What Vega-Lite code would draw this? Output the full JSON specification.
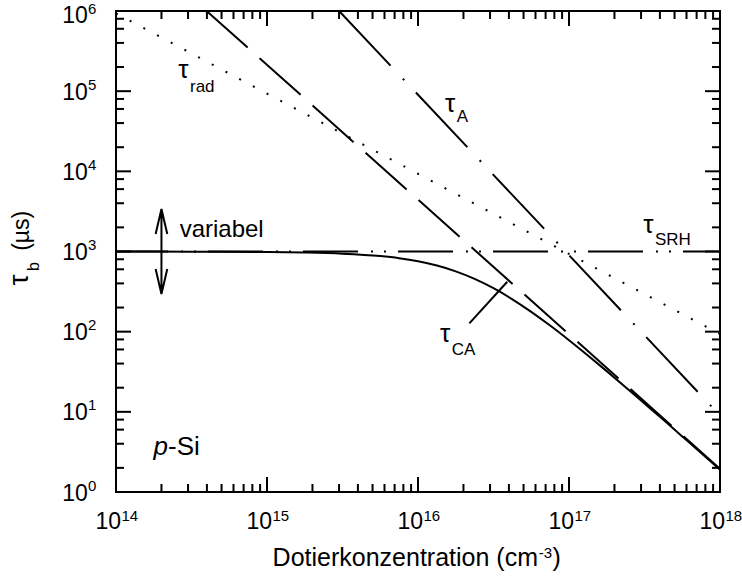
{
"$schema":"https://vega.github.io/schema/vega-lite/v6.json",
"width":604,"height":481,
"autosize":{"type":"none"},
"padding":{"left":116,"top":11,"right":22,"bottom":90},
"background":"white",
"config":{
 "view":{"stroke":"black","strokeWidth":2},
 "axis":{"grid":false,"domain":false,"ticks":false,"labelColor":"black","labelFont":"Liberation Sans","labelFlush":false,"labelOverlap":false,"labelBound":false},
 "text":{"font":"Liberation Sans","color":"black"}
},
"datasets":{
 "curves":[
  {"curve":"SRH","N":1e14,"tau":1000},{"curve":"SRH","N":1e18,"tau":1000},
  {"curve":"rad","N":1e14,"tau":933000},{"curve":"rad","N":1e18,"tau":93.3},
  {"curve":"A","N":3.003e15,"tau":1000000},{"curve":"A","N":1e18,"tau":9.0},
  {"curve":"CA","N":3.981e14,"tau":1000000},{"curve":"CA","N":1e18,"tau":1.94},
  {"curve":"total","N":1e14,"tau":998.9},{"curve":"total","N":3.162e14,"tau":996.2},
  {"curve":"total","N":1e15,"tau":985.5},{"curve":"total","N":1.778e15,"tau":970.8},
  {"curve":"total","N":3.162e15,"tau":939.8},{"curve":"total","N":5.623e15,"tau":875.9},
  {"curve":"total","N":7.499e15,"tau":823.9},{"curve":"total","N":1e16,"tau":754.8},
  {"curve":"total","N":1.334e16,"tau":667.5},{"curve":"total","N":1.778e16,"tau":565.2},
  {"curve":"total","N":2.371e16,"tau":455.3},{"curve":"total","N":3.162e16,"tau":348.2},
  {"curve":"total","N":4.217e16,"tau":253.5},{"curve":"total","N":5.623e16,"tau":176.8},
  {"curve":"total","N":7.499e16,"tau":119.2},{"curve":"total","N":1e17,"tau":78.3},
  {"curve":"total","N":1.334e17,"tau":50.5},{"curve":"total","N":1.778e17,"tau":32.2},
  {"curve":"total","N":2.371e17,"tau":20.3},{"curve":"total","N":3.162e17,"tau":12.7},
  {"curve":"total","N":4.217e17,"tau":7.94},{"curve":"total","N":5.623e17,"tau":4.94},
  {"curve":"total","N":7.499e17,"tau":3.07},{"curve":"total","N":1e18,"tau":1.9}
 ],
 "edgeTicks":[
  {"s":"b","m":1,"N":1e14,"tau":1},{"s":"b","N":2e14,"tau":1},{"s":"b","N":3e14,"tau":1},{"s":"b","N":4e14,"tau":1},{"s":"b","N":5e14,"tau":1},{"s":"b","N":6e14,"tau":1},{"s":"b","N":7e14,"tau":1},{"s":"b","N":8e14,"tau":1},{"s":"b","N":9e14,"tau":1},
  {"s":"b","m":1,"N":1e15,"tau":1},{"s":"b","N":2e15,"tau":1},{"s":"b","N":3e15,"tau":1},{"s":"b","N":4e15,"tau":1},{"s":"b","N":5e15,"tau":1},{"s":"b","N":6e15,"tau":1},{"s":"b","N":7e15,"tau":1},{"s":"b","N":8e15,"tau":1},{"s":"b","N":9e15,"tau":1},
  {"s":"b","m":1,"N":1e16,"tau":1},{"s":"b","N":2e16,"tau":1},{"s":"b","N":3e16,"tau":1},{"s":"b","N":4e16,"tau":1},{"s":"b","N":5e16,"tau":1},{"s":"b","N":6e16,"tau":1},{"s":"b","N":7e16,"tau":1},{"s":"b","N":8e16,"tau":1},{"s":"b","N":9e16,"tau":1},
  {"s":"b","m":1,"N":1e17,"tau":1},{"s":"b","N":2e17,"tau":1},{"s":"b","N":3e17,"tau":1},{"s":"b","N":4e17,"tau":1},{"s":"b","N":5e17,"tau":1},{"s":"b","N":6e17,"tau":1},{"s":"b","N":7e17,"tau":1},{"s":"b","N":8e17,"tau":1},{"s":"b","N":9e17,"tau":1},
  {"s":"b","m":1,"N":1e18,"tau":1},
  {"s":"t","m":1,"N":1e14,"tau":1000000},{"s":"t","N":2e14,"tau":1000000},{"s":"t","N":3e14,"tau":1000000},{"s":"t","N":4e14,"tau":1000000},{"s":"t","N":5e14,"tau":1000000},{"s":"t","N":6e14,"tau":1000000},{"s":"t","N":7e14,"tau":1000000},{"s":"t","N":8e14,"tau":1000000},{"s":"t","N":9e14,"tau":1000000},
  {"s":"t","m":1,"N":1e15,"tau":1000000},{"s":"t","N":2e15,"tau":1000000},{"s":"t","N":3e15,"tau":1000000},{"s":"t","N":4e15,"tau":1000000},{"s":"t","N":5e15,"tau":1000000},{"s":"t","N":6e15,"tau":1000000},{"s":"t","N":7e15,"tau":1000000},{"s":"t","N":8e15,"tau":1000000},{"s":"t","N":9e15,"tau":1000000},
  {"s":"t","m":1,"N":1e16,"tau":1000000},{"s":"t","N":2e16,"tau":1000000},{"s":"t","N":3e16,"tau":1000000},{"s":"t","N":4e16,"tau":1000000},{"s":"t","N":5e16,"tau":1000000},{"s":"t","N":6e16,"tau":1000000},{"s":"t","N":7e16,"tau":1000000},{"s":"t","N":8e16,"tau":1000000},{"s":"t","N":9e16,"tau":1000000},
  {"s":"t","m":1,"N":1e17,"tau":1000000},{"s":"t","N":2e17,"tau":1000000},{"s":"t","N":3e17,"tau":1000000},{"s":"t","N":4e17,"tau":1000000},{"s":"t","N":5e17,"tau":1000000},{"s":"t","N":6e17,"tau":1000000},{"s":"t","N":7e17,"tau":1000000},{"s":"t","N":8e17,"tau":1000000},{"s":"t","N":9e17,"tau":1000000},
  {"s":"t","m":1,"N":1e18,"tau":1000000},
  {"s":"l","m":1,"N":1e14,"tau":1},{"s":"l","N":1e14,"tau":2},{"s":"l","N":1e14,"tau":4},{"s":"l","N":1e14,"tau":6},{"s":"l","N":1e14,"tau":8},
  {"s":"l","m":1,"N":1e14,"tau":10},{"s":"l","N":1e14,"tau":20},{"s":"l","N":1e14,"tau":40},{"s":"l","N":1e14,"tau":60},{"s":"l","N":1e14,"tau":80},
  {"s":"l","m":1,"N":1e14,"tau":100},{"s":"l","N":1e14,"tau":200},{"s":"l","N":1e14,"tau":400},{"s":"l","N":1e14,"tau":600},{"s":"l","N":1e14,"tau":800},
  {"s":"l","m":1,"N":1e14,"tau":1000},{"s":"l","N":1e14,"tau":2000},{"s":"l","N":1e14,"tau":4000},{"s":"l","N":1e14,"tau":6000},{"s":"l","N":1e14,"tau":8000},
  {"s":"l","m":1,"N":1e14,"tau":10000},{"s":"l","N":1e14,"tau":20000},{"s":"l","N":1e14,"tau":40000},{"s":"l","N":1e14,"tau":60000},{"s":"l","N":1e14,"tau":80000},
  {"s":"l","m":1,"N":1e14,"tau":100000},{"s":"l","N":1e14,"tau":200000},{"s":"l","N":1e14,"tau":400000},{"s":"l","N":1e14,"tau":600000},{"s":"l","N":1e14,"tau":800000},
  {"s":"l","m":1,"N":1e14,"tau":1000000},
  {"s":"r","m":1,"N":1e18,"tau":1},{"s":"r","N":1e18,"tau":2},{"s":"r","N":1e18,"tau":4},{"s":"r","N":1e18,"tau":6},{"s":"r","N":1e18,"tau":8},
  {"s":"r","m":1,"N":1e18,"tau":10},{"s":"r","N":1e18,"tau":20},{"s":"r","N":1e18,"tau":40},{"s":"r","N":1e18,"tau":60},{"s":"r","N":1e18,"tau":80},
  {"s":"r","m":1,"N":1e18,"tau":100},{"s":"r","N":1e18,"tau":200},{"s":"r","N":1e18,"tau":400},{"s":"r","N":1e18,"tau":600},{"s":"r","N":1e18,"tau":800},
  {"s":"r","m":1,"N":1e18,"tau":1000},{"s":"r","N":1e18,"tau":2000},{"s":"r","N":1e18,"tau":4000},{"s":"r","N":1e18,"tau":6000},{"s":"r","N":1e18,"tau":8000},
  {"s":"r","m":1,"N":1e18,"tau":10000},{"s":"r","N":1e18,"tau":20000},{"s":"r","N":1e18,"tau":40000},{"s":"r","N":1e18,"tau":60000},{"s":"r","N":1e18,"tau":80000},
  {"s":"r","m":1,"N":1e18,"tau":100000},{"s":"r","N":1e18,"tau":200000},{"s":"r","N":1e18,"tau":400000},{"s":"r","N":1e18,"tau":600000},{"s":"r","N":1e18,"tau":800000},
  {"s":"r","m":1,"N":1e18,"tau":1000000}
 ],
 "labels":[
  {"role":"sym","text":"τ","N":3.021e14,"tau":147000},
  {"role":"sub","text":"rad","N":3.09e14,"tau":98500},
  {"role":"sym","text":"τ","N":1.764e16,"tau":55000},
  {"role":"sub","text":"A","N":1.803e16,"tau":41600},
  {"role":"sym","text":"τ","N":3.627e17,"tau":1701},
  {"role":"sub","text":"SRH","N":3.711e17,"tau":1205},
  {"role":"sym","text":"τ","N":1.634e16,"tau":74},
  {"role":"sub","text":"CA","N":1.671e16,"tau":51.2},
  {"role":"note","text":"variabel","N":5.01e14,"tau":1503},
  {"role":"italic","text":"p","N":1.771e14,"tau":2.894},
  {"role":"plain","text":"-Si","N":2.21e14,"tau":2.894}
 ]
},
"resolve":{"scale":{"x":"shared","y":"shared"},"axis":{"x":"independent","y":"independent"}},
"encoding":{
 "x":{"field":"N","type":"quantitative","scale":{"type":"log","domain":[1e14,1e18],"nice":false},"axis":null},
 "y":{"field":"tau","type":"quantitative","scale":{"type":"log","domain":[1,1000000],"nice":false},"axis":null}
},
"layer":[
 {"data":{"name":"curves"},"transform":[{"filter":"datum.curve === 'total'"}],
  "mark":{"type":"line","stroke":"black","strokeWidth":2,"interpolate":"monotone","clip":true},
  "encoding":{
   "x":{"field":"N","type":"quantitative","scale":{"type":"log","domain":[1e14,1e18],"nice":false},
    "axis":{"orient":"bottom","title":null,"values":[1e14,1e15,1e16,1e17,1e18],"labelExpr":"'10'","labelFontSize":23,"labelAlign":"right","labelBaseline":"top","labelPadding":18,"labelOffset":4.5}},
   "y":{"field":"tau","type":"quantitative","scale":{"type":"log","domain":[1,1000000],"nice":false},
    "axis":{"orient":"left","title":null,"values":[1,10,100,1000,10000,100000],"labelExpr":"'10'","labelFontSize":23,"labelAlign":"right","labelBaseline":"middle","labelPadding":28.7,"labelOffset":1}}
  }},
 {"data":{"name":"curves"},"transform":[{"filter":"datum.curve === 'SRH'"}],
  "mark":{"type":"line","stroke":"black","strokeWidth":2,"strokeDash":[55,13,2,11,2,12],"strokeDashOffset":3,"clip":true},
  "encoding":{
   "x":{"field":"N","type":"quantitative","scale":{"type":"log","domain":[1e14,1e18],"nice":false},
    "axis":{"orient":"bottom","title":null,"values":[1e14,1e15,1e16,1e17,1e18],"labelExpr":"format(round(log(datum.value) / LN10), 'd')","labelFontSize":15,"labelAlign":"left","labelBaseline":"top","labelPadding":16,"labelOffset":5}},
   "y":{"field":"tau","type":"quantitative","scale":{"type":"log","domain":[1,1000000],"nice":false},
    "axis":{"orient":"left","title":null,"values":[1,10,100,1000,10000,100000],"labelExpr":"format(round(log(datum.value) / LN10), 'd')","labelFontSize":15,"labelAlign":"left","labelBaseline":"middle","labelPadding":28.5,"labelOffset":-7}}
  }},
 {"data":{"name":"curves"},"transform":[{"filter":"datum.curve === 'rad'"}],
  "mark":{"type":"line","stroke":"black","strokeWidth":2,"strokeDash":[2,13.5],"strokeCap":"butt","clip":true}},
 {"data":{"name":"curves"},"transform":[{"filter":"datum.curve === 'A'"}],
  "mark":{"type":"line","stroke":"black","strokeWidth":2,"strokeDash":[75,18,2,17],"clip":true}},
 {"data":{"name":"curves"},"transform":[{"filter":"datum.curve === 'CA'"}],
  "mark":{"type":"line","stroke":"black","strokeWidth":2,"strokeDash":[55,16],"clip":true}},
 {"data":{"name":"edgeTicks"},"transform":[{"filter":"datum.s === 'b' && datum.m === 1"}],
  "mark":{"type":"point","shape":"M0,0L0,-1","size":900,"filled":false,"stroke":"black","strokeWidth":2,"opacity":1}},
 {"data":{"name":"edgeTicks"},"transform":[{"filter":"datum.s === 'b' && datum.m !== 1"}],
  "mark":{"type":"point","shape":"M0,0L0,-1","size":256,"filled":false,"stroke":"black","strokeWidth":2,"opacity":1}},
 {"data":{"name":"edgeTicks"},"transform":[{"filter":"datum.s === 't' && datum.m === 1"}],
  "mark":{"type":"point","shape":"M0,0L0,1","size":900,"filled":false,"stroke":"black","strokeWidth":2,"opacity":1}},
 {"data":{"name":"edgeTicks"},"transform":[{"filter":"datum.s === 't' && datum.m !== 1"}],
  "mark":{"type":"point","shape":"M0,0L0,1","size":256,"filled":false,"stroke":"black","strokeWidth":2,"opacity":1}},
 {"data":{"name":"edgeTicks"},"transform":[{"filter":"datum.s === 'l' && datum.m === 1"}],
  "mark":{"type":"point","shape":"M0,0L1,0","size":900,"filled":false,"stroke":"black","strokeWidth":2,"opacity":1}},
 {"data":{"name":"edgeTicks"},"transform":[{"filter":"datum.s === 'l' && datum.m !== 1"}],
  "mark":{"type":"point","shape":"M0,0L1,0","size":256,"filled":false,"stroke":"black","strokeWidth":2,"opacity":1}},
 {"data":{"name":"edgeTicks"},"transform":[{"filter":"datum.s === 'r' && datum.m === 1"}],
  "mark":{"type":"point","shape":"M0,0L-1,0","size":900,"filled":false,"stroke":"black","strokeWidth":2,"opacity":1}},
 {"data":{"name":"edgeTicks"},"transform":[{"filter":"datum.s === 'r' && datum.m !== 1"}],
  "mark":{"type":"point","shape":"M0,0L-1,0","size":256,"filled":false,"stroke":"black","strokeWidth":2,"opacity":1}},
 {"data":{"values":[{"N":2.188e16,"tau":127.1,"N2":3.9e16,"tau2":420}]},
  "mark":{"type":"rule","stroke":"black","strokeWidth":2},
  "encoding":{"x2":{"field":"N2"},"y2":{"field":"tau2"}}},
 {"data":{"values":[{"N":2e14,"tau":1000}]},
  "mark":{"type":"point","shape":"M0,-1L0,1M-0.137,-0.41L0,-1L0.137,-0.41M-0.137,0.41L0,1L0.137,0.41","size":7225,"filled":false,"stroke":"black","strokeWidth":2,"opacity":1},
  "encoding":{
   "y":{"field":"tau","type":"quantitative","scale":{"type":"log","domain":[1,1000000],"nice":false},
    "axis":{"orient":"left","title":null,"values":[1000000],"labelExpr":"'10'","labelFontSize":23,"labelAlign":"right","labelBaseline":"middle","labelPadding":28.7,"labelOffset":4}}
  }},
 {"data":{"name":"labels"},"transform":[{"filter":"datum.role === 'sym'"}],
  "mark":{"type":"text","fontSize":26,"align":"right","baseline":"alphabetic"},
  "encoding":{
   "y":{"field":"tau","type":"quantitative","scale":{"type":"log","domain":[1,1000000],"nice":false},
    "axis":{"orient":"left","title":null,"values":[1000000],"labelExpr":"format(round(log(datum.value) / LN10), 'd')","labelFontSize":15,"labelAlign":"left","labelBaseline":"middle","labelPadding":28.5,"labelOffset":-3}},
   "text":{"field":"text"}
  }},
 {"data":{"name":"labels"},"transform":[{"filter":"datum.role === 'sub'"}],
  "mark":{"type":"text","fontSize":17,"align":"left","baseline":"alphabetic"},
  "encoding":{"text":{"field":"text"}}},
 {"data":{"name":"labels"},"transform":[{"filter":"datum.role === 'note'"}],
  "mark":{"type":"text","fontSize":24,"align":"center","baseline":"alphabetic"},
  "encoding":{"text":{"field":"text"}}},
 {"data":{"name":"labels"},"transform":[{"filter":"datum.role === 'italic'"}],
  "mark":{"type":"text","fontSize":26,"fontStyle":"italic","align":"left","baseline":"alphabetic"},
  "encoding":{"text":{"field":"text"}}},
 {"data":{"name":"labels"},"transform":[{"filter":"datum.role === 'plain'"}],
  "mark":{"type":"text","fontSize":26,"align":"left","baseline":"alphabetic"},
  "encoding":{"text":{"field":"text"}}},
 {"data":{"values":[{"N":1e14,"tau":1000}]},
  "mark":{"type":"text","text":"τ","fontSize":28,"angle":270,"align":"right","baseline":"alphabetic","dx":-23,"dy":-87.7}},
 {"data":{"values":[{"N":1e14,"tau":1000}]},
  "mark":{"type":"text","text":"b","fontSize":16,"angle":270,"align":"center","baseline":"alphabetic","dx":-15,"dy":-76.7}},
 {"data":{"values":[{"N":1e14,"tau":1000}]},
  "mark":{"type":"text","text":"(µs)","fontSize":23,"angle":270,"align":"center","baseline":"alphabetic","dx":20.7,"dy":-87}},
 {"data":{"values":[{"N":1e16,"tau":1}]},
  "mark":{"type":"text","text":"Dotierkonzentration (cm","fontSize":25,"align":"right","baseline":"alphabetic","dx":120,"dy":74}},
 {"data":{"values":[{"N":1e16,"tau":1}]},
  "mark":{"type":"text","text":"-3","fontSize":15,"align":"left","baseline":"alphabetic","dx":120.8,"dy":66}},
 {"data":{"values":[{"N":1e16,"tau":1}]},
  "mark":{"type":"text","text":")","fontSize":25,"align":"left","baseline":"alphabetic","dx":134.5,"dy":74}}
]
}
